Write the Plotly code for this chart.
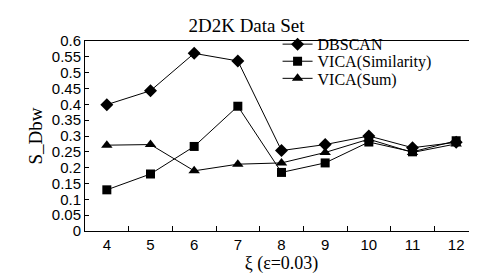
import plotly.graph_objects as go

xi = [4, 5, 6, 7, 8, 9, 10, 11, 12]
dbscan = [0.399, 0.443, 0.561, 0.537, 0.254, 0.273, 0.300, 0.263, 0.280]
vica_sim = [0.130, 0.180, 0.267, 0.394, 0.185, 0.215, 0.281, 0.250, 0.285]
vica_sum = [0.271, 0.273, 0.190, 0.211, 0.215, 0.248, 0.290, 0.248, 0.275]
y_ticks = [0, 0.05, 0.1, 0.15, 0.2, 0.25, 0.3, 0.35, 0.4, 0.45, 0.5, 0.55, 0.6]
y_labels = ["0", "0.05", "0.1", "0.15", "0.2", "0.25", "0.3", "0.35", "0.4", "0.45", "0.5", "0.55", "0.6"]

serif = "Liberation Serif"
fig = go.Figure()
series = [("DBSCAN", dbscan, "diamond", 10, "legend"),
          ("VICA(Similarity)", vica_sim, "square", 9, "legend2"),
          ("VICA(Sum)", vica_sum, "triangle-up", 10, "legend3")]
for name, vals, sym, sz, lg in series:
    fig.add_trace(go.Scatter(x=xi, y=vals, name=name, mode="lines+markers",
                             line=dict(color="black", width=1), legend=lg,
                             marker=dict(symbol=sym, size=sz, color="black")))

def leg(y):
    return dict(x=0.49, y=y, xanchor="left", yanchor="middle",
                font=dict(family=serif, size=16, color="black"),
                bgcolor="rgba(0,0,0,0)", itemwidth=30, borderwidth=0)

fig.update_layout(
    width=477, height=273,
    margin=dict(l=77, r=7, t=33, b=50),
    paper_bgcolor="white", plot_bgcolor="white",
    title=dict(text="2D2K Data Set", x=0.5, xanchor="center", y=0.935, yanchor="middle",
               font=dict(family=serif, size=19, color="black")),
    showlegend=True,
    legend=leg(0.983), legend2=leg(0.893), legend3=leg(0.803),
    xaxis=dict(range=[3.5, 12.5], tickvals=xi, ticktext=[str(v) for v in xi],
               ticks="", showline=True, linecolor="black", linewidth=1, mirror=True,
               showgrid=False, zeroline=False,
               tickfont=dict(family="Liberation Sans", size=15, color="black"),
               minor=dict(tickvals=[4.5, 5.5, 6.5, 7.5, 8.5, 9.5, 10.5, 11.5], ticks="inside",
                          ticklen=5, tickcolor="black", showgrid=False),
               title=dict(text="ξ (ε=0.03)", standoff=0,
                          font=dict(family=serif, size=18, color="black"))),
    yaxis=dict(range=[0, 0.6], tickvals=y_ticks, ticktext=y_labels,
               ticks="inside", ticklen=4, tickcolor="black",
               showline=True, linecolor="black", linewidth=1, mirror=True,
               showgrid=False, zeroline=False,
               tickfont=dict(family="Liberation Sans", size=15, color="black"),
               title=dict(text="S_Dbw", standoff=4,
                          font=dict(family=serif, size=19, color="black"))),
)
fig.write_html("out.html")
